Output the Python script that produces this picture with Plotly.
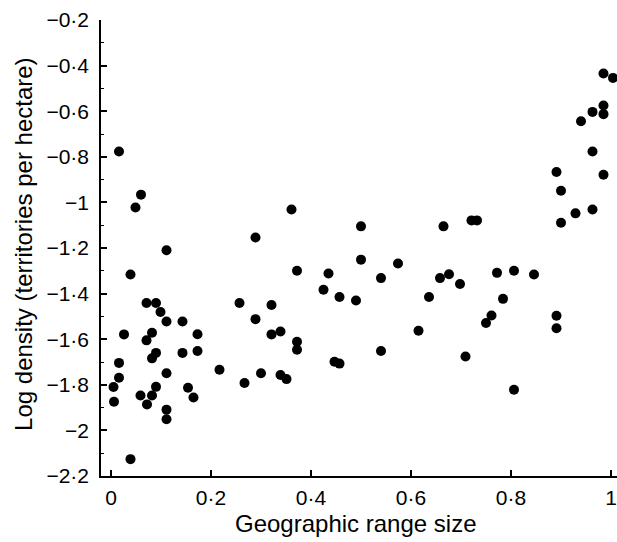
import plotly.graph_objects as go

# Geographic range size (x) and log density (y)
range_size = [
    0.016, 0.060, 0.049, 0.111, 0.039, 0.026, 0.071, 0.090, 0.099, 0.111,
    0.071, 0.082, 0.090, 0.082, 0.143, 0.143, 0.173, 0.173, 0.016, 0.016,
    0.005, 0.006, 0.059, 0.072, 0.082, 0.090, 0.111, 0.111, 0.111, 0.154,
    0.165, 0.039, 0.217,
    0.289, 0.257, 0.289, 0.321, 0.321, 0.339, 0.361, 0.372, 0.372, 0.372,
    0.267, 0.300, 0.339, 0.351, 0.425, 0.435, 0.457, 0.447, 0.457, 0.490,
    0.500, 0.500, 0.540, 0.540, 0.574, 0.615, 0.636, 0.658, 0.665, 0.676,
    0.698, 0.709, 0.721, 0.732, 0.750, 0.761, 0.772, 0.784, 0.806, 0.806,
    0.846,
    0.891, 0.900, 0.900, 0.891, 0.891, 0.929, 0.940, 0.963, 0.963, 0.963,
    0.985, 1.004, 0.985, 0.985, 0.985,
]
log_density = [
    -0.777, -0.966, -1.022, -1.210, -1.316, -1.579, -1.441, -1.441, -1.481, -1.522,
    -1.605, -1.572, -1.660, -1.684, -1.522, -1.660, -1.578, -1.652, -1.704, -1.769,
    -1.810, -1.874, -1.847, -1.886, -1.847, -1.809, -1.749, -1.909, -1.951, -1.813,
    -1.856, -2.126, -1.734,
    -1.154, -1.441, -1.512, -1.450, -1.579, -1.566, -1.031, -1.300, -1.611, -1.646,
    -1.792, -1.749, -1.757, -1.775, -1.383, -1.312, -1.415, -1.699, -1.707, -1.430,
    -1.105, -1.251, -1.332, -1.652, -1.268, -1.563, -1.415, -1.332, -1.105, -1.315,
    -1.358, -1.676, -1.079, -1.079, -1.529, -1.496, -1.309, -1.423, -1.300, -1.822,
    -1.316,
    -0.867, -0.949, -1.089, -1.497, -1.552, -1.048, -0.644, -0.603, -0.777, -1.031,
    -0.435, -0.454, -0.575, -0.613, -0.879,
]

x_tick_vals = [0, 0.2, 0.4, 0.6, 0.8, 1]
x_tick_text = ["0", "0·2", "0·4", "0·6", "0·8", "1"]
y_tick_vals = [-0.2, -0.4, -0.6, -0.8, -1.0, -1.2, -1.4, -1.6, -1.8, -2.0, -2.2]
y_tick_text = ["−0·2", "−0·4", "−0·6", "−0·8", "−1", "−1·2", "−1·4",
               "−1·6", "−1·8", "−2", "−2·2"]

FONT = "Liberation Sans, Arial, Helvetica, sans-serif"

fig = go.Figure(
    go.Scatter(
        x=range_size,
        y=log_density,
        mode="markers",
        marker=dict(color="black", size=10, line=dict(width=0)),
        cliponaxis=False,
        showlegend=False,
    )
)

fig.update_layout(
    width=617,
    height=542,
    margin=dict(l=101, r=0, t=20, b=66),
    paper_bgcolor="white",
    plot_bgcolor="white",
    font=dict(family=FONT, color="black", size=21),
    xaxis=dict(
        range=[-0.02, 1.012],
        tickvals=x_tick_vals,
        ticktext=x_tick_text,
        ticks="inside",
        ticklen=6,
        tickwidth=1.5,
        tickcolor="black",
        showline=True,
        linecolor="black",
        linewidth=1.5,
        showgrid=False,
        zeroline=False,
        ticklabelstandoff=2,
        ticklabeloverflow="allow",
        tickfont=dict(size=21),
    ),
    yaxis=dict(
        range=[-2.2, -0.2],
        tickvals=y_tick_vals,
        ticktext=y_tick_text,
        ticks="inside",
        ticklen=6,
        tickwidth=1.5,
        tickcolor="black",
        minor=dict(ticks="inside", dtick=0.1, tick0=-0.1, ticklen=3,
                   tickwidth=1.2, tickcolor="black"),
        showline=True,
        linecolor="black",
        linewidth=1.5,
        showgrid=False,
        zeroline=False,
        ticklabelstandoff=6,
        ticklabeloverflow="allow",
        tickfont=dict(size=21),
    ),
    annotations=[
        dict(
            text="Geographic range size",
            xref="paper", yref="paper",
            x=0.494, y=0,
            xanchor="center", yanchor="middle",
            yshift=-47,
            showarrow=False,
            font=dict(size=24),
        ),
        dict(
            text="Log density (territories per hectare)",
            xref="paper", yref="paper",
            x=0, y=0.509,
            xanchor="center", yanchor="middle",
            xshift=-77,
            textangle=-90,
            showarrow=False,
            font=dict(size=24),
        ),
    ],
)

# remove the page's default body margin so the figure fills the window exactly
fig.write_html(
    "out.html",
    config={"displayModeBar": False},
    post_script="document.body.style.margin='0';document.body.style.overflow='hidden';",
)
